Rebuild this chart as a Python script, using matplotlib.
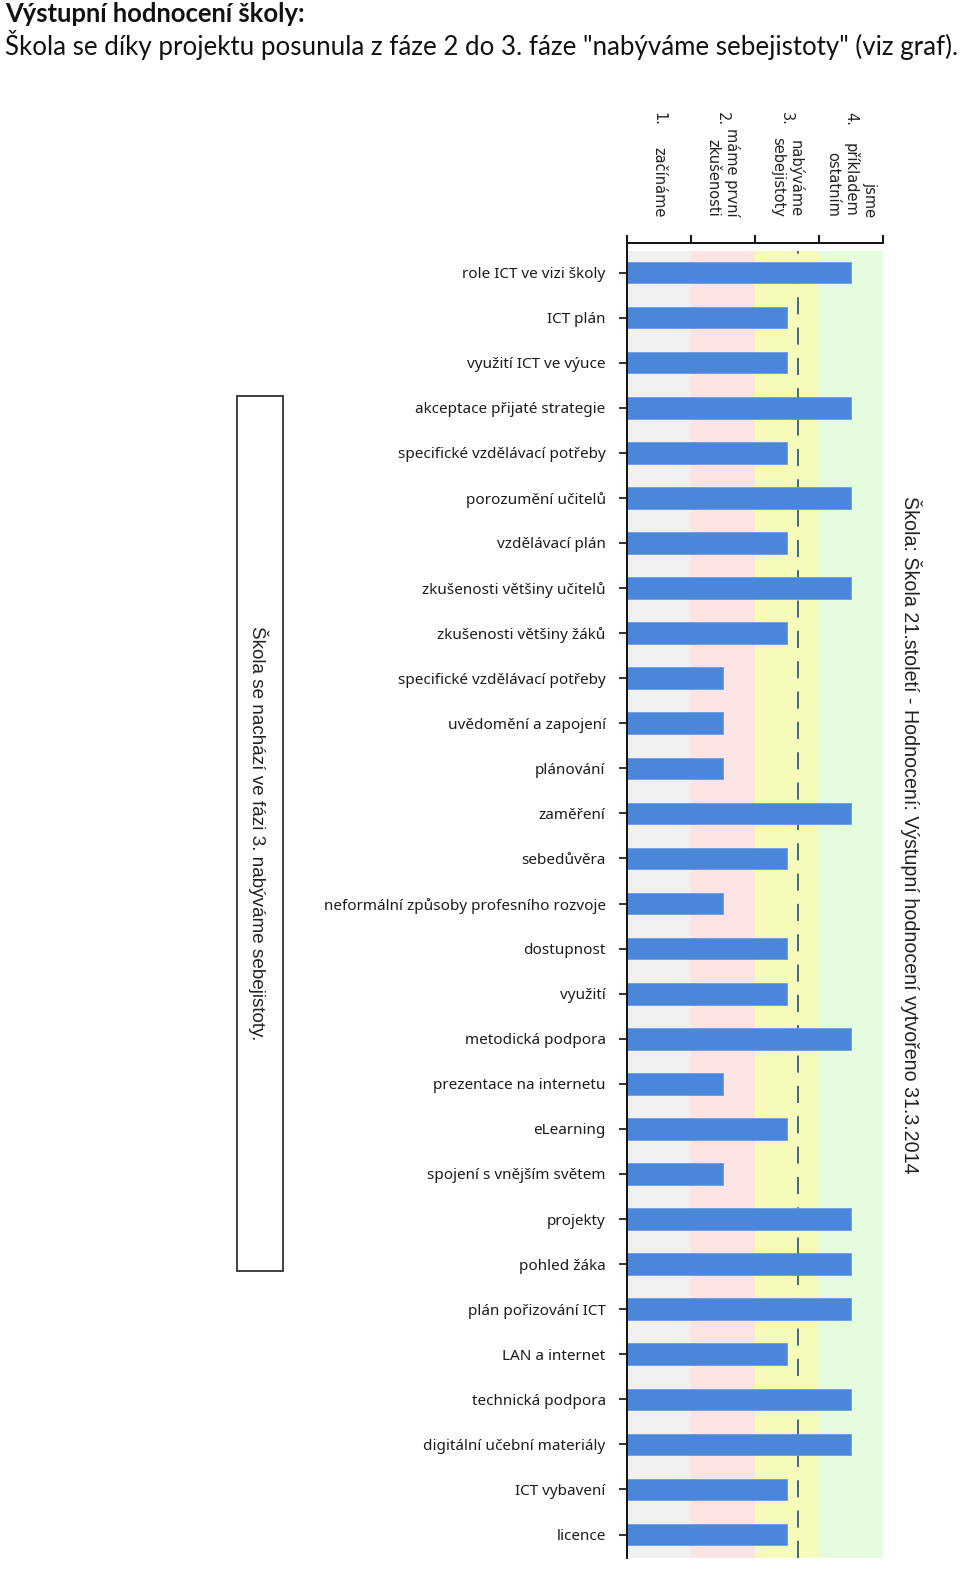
import matplotlib
matplotlib.use("Agg")
import matplotlib.pyplot as plt
from matplotlib.patches import Rectangle
from matplotlib.transforms import blended_transform_factory

# ---------------- data ----------------
categories = [
    "role ICT ve vizi školy", "ICT plán", "využití ICT ve výuce",
    "akceptace přijaté strategie", "specifické vzdělávací potřeby",
    "porozumění učitelů", "vzdělávací plán", "zkušenosti většiny učitelů",
    "zkušenosti většiny žáků", "specifické vzdělávací potřeby",
    "uvědomění a zapojení", "plánování", "zaměření", "sebedůvěra",
    "neformální způsoby profesního rozvoje", "dostupnost", "využití",
    "metodická podpora", "prezentace na internetu", "eLearning",
    "spojení s vnějším světem", "projekty", "pohled žáka",
    "plán pořizování ICT", "LAN a internet", "technická podpora",
    "digitální učební materiály", "ICT vybavení", "licence",
]
phase_values = [4, 3, 3, 4, 3, 4, 3, 4, 3, 2, 2, 2, 4, 3, 2, 3, 3, 4, 2, 3,
                2, 4, 4, 4, 3, 4, 4, 3, 3]
average_phase = 3.17
phase_numbers = [1, 2, 3, 4]
phase_names = ["začínáme", "máme první\nzkušenosti", "nabýváme\nsebejistoty",
               "jsme\npříkladem\nostatním"]
band_colors = ["#f0f0f0", "#fde3e3", "#f7fbba", "#e6fcdf"]

title_line1 = "Výstupní hodnocení školy:"
title_line2 = 'Škola se díky projektu posunula z fáze 2 do 3. fáze "nabýváme sebejistoty" (viz graf).'
side_text = "Škola: Škola 21.století - Hodnocení: Výstupní hodnocení vytvořeno 31.3.2014"
box_text = "Škola se nachází ve fázi 3. nabýváme sebejistoty."

W, H = 960, 1584
fig = plt.figure(figsize=(W / 100, H / 100), dpi=100)
fig.patch.set_facecolor("white")
renderer = fig.canvas.get_renderer()


def px_x(x):
    return x / W


def px_y(y):
    return 1 - y / H


def fit(t, target, dim="w"):
    bb = t.get_window_extent(renderer)
    cur = bb.width if dim == "w" else bb.height
    t.set_fontsize(t.get_fontsize() * target / cur)


# ---------------- axes ----------------
ax_left, ax_right, ax_top, ax_bottom = 626.5, 883, 243, 1558
ax = fig.add_axes([px_x(ax_left), px_y(ax_bottom),
                   (ax_right - ax_left) / W, (ax_bottom - ax_top) / H])
n = len(categories)
ypos = list(range(n))
ax.set_xlim(0.5, 4.5)
ax.set_ylim(n - 1 + 0.52, -0.655)

band_top = 1 - 8 / (ax_bottom - ax_top)
for p, c in zip(phase_numbers, band_colors):
    ax.axvspan(p - 0.5, p + 0.5, ymin=0, ymax=band_top, color=c, lw=0, zorder=0)

ax.axvline(average_phase, ymin=0, ymax=band_top, color="#3b6a8e", lw=1.4,
           ls=(0, (8.8, 6.8)), zorder=1)

ax.barh(ypos, [v - 0.5 for v in phase_values], left=0.5, height=0.48,
        color="#4a86d9", edgecolor="#6b9be0", lw=0.6, zorder=2)

for s in ["right", "bottom"]:
    ax.spines[s].set_visible(False)
for s in ["top", "left"]:
    ax.spines[s].set_linewidth(1.4)
    ax.spines[s].set_color("#111111")

ax.xaxis.tick_top()
ax.set_xticks([p - 0.5 for p in phase_numbers] + [phase_numbers[-1] + 0.5])
ax.set_xticklabels([])
ax.tick_params(axis="x", direction="out", length=5.5, width=1.4, color="#111111")

ax.set_yticks(ypos)
ax.set_yticklabels(categories, fontsize=10, color="#1c1c1c", family="Noto Sans")
ax.tick_params(axis="y", direction="out", length=6, width=1.2, pad=9, color="#111111")

# fit tick label size to the widest label (~281 px)
fig.canvas.draw()
longest = max(ax.get_yticklabels(), key=lambda t: t.get_window_extent(renderer).width)
scale = 281 / longest.get_window_extent(renderer).width
for t in ax.get_yticklabels():
    t.set_fontsize(10 * scale)

# ---------------- phase labels (top, rotated) ----------------
tr = blended_transform_factory(ax.transData, fig.transFigure)
for p, name in zip(phase_numbers, phase_names):
    ax.text(p, px_y(112), f"{p}.", transform=tr, rotation=-90,
            rotation_mode="anchor", ha="left", va="center", fontsize=10.5,
            color="#222222", family="DejaVu Sans", clip_on=False)
    ax.text(p, px_y(217), name, transform=tr, rotation=-90,
            rotation_mode="anchor", ha="right", va="center", multialignment="right",
            fontsize=10.5, color="#222222", family="DejaVu Sans",
            linespacing=1.25, clip_on=False)

# ---------------- side text ----------------
st = fig.text(px_x(911), px_y(835), side_text, rotation=-90, rotation_mode="anchor",
              ha="center", va="center", fontsize=13, color="#222222",
              family="Liberation Sans")
fit(st, 674, "h")

# ---------------- left box ----------------
bx0, bx1, by0, by1 = 236.5, 283, 396, 1271
fig.patches.append(Rectangle((px_x(bx0), px_y(by1)), (bx1 - bx0) / W, (by1 - by0) / H,
                             transform=fig.transFigure, fill=False,
                             edgecolor="#333333", lw=1.3))
bt = fig.text(px_x(258), px_y((by0 + by1) / 2), box_text, rotation=-90,
              rotation_mode="anchor", ha="center", va="center", fontsize=12,
              color="#222222", family="Liberation Sans")
fit(bt, 415, "h")

# ---------------- title ----------------
t1 = fig.text(px_x(5), px_y(22), title_line1, ha="left", va="baseline",
              fontsize=16, fontweight="bold", color="#111111", family="Lato")
fit(t1, 301)
t2 = fig.text(px_x(5), px_y(55), title_line2, ha="left", va="baseline",
              fontsize=16, color="#111111", family="Lato")
fit(t2, 955)

fig.savefig("out.png", dpi=100, facecolor="white")
